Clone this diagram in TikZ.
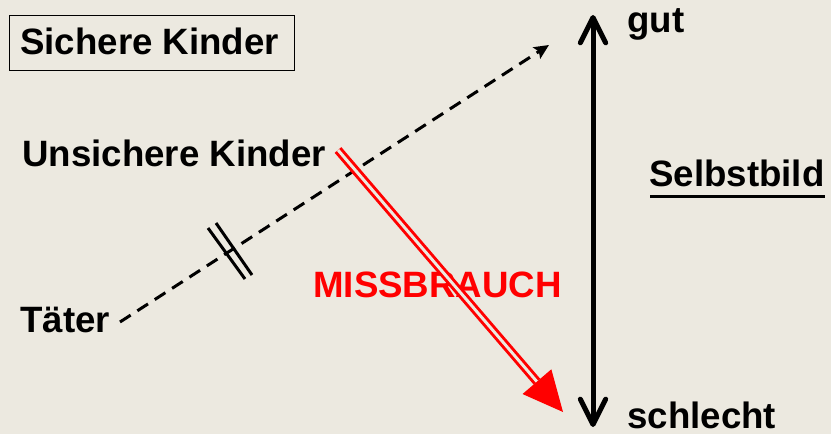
\documentclass[tikz,border=0pt]{standalone}
\usepackage{fontspec}
\setmainfont{Liberation Sans}
\usetikzlibrary{arrows.meta,calc}
\definecolor{bgc}{RGB}{236,233,224}
\definecolor{rd}{RGB}{255,0,0}
\tikzset{
  lbl/.style={font=\bfseries\fontsize{27.5pt}{30pt}\selectfont, inner sep=0pt, anchor=base west},
  dashline/.style={line width=2.25pt, dash pattern=on 9.5pt off 6pt, -{Stealth[length=11pt,width=10pt,inset=2pt]}},
  barline/.style={line width=2.25pt},
  scalearrow/.style={line width=3.75pt, {Straight Barb[round,length=19pt,width=19pt]}-{Straight Barb[round,length=19pt,width=19pt]}},
  redline/.style={draw=rd, line width=2.2pt, double=bgc, double distance=2.2pt},
}
\begin{document}
\begin{tikzpicture}[x=0.75pt,y=-0.75pt]
\fill[bgc] (0,0) rectangle (831,434);
\useasboundingbox (0,0) rectangle (831,434);
% box
\node[draw, line width=0.75pt, minimum width=213.75pt, minimum height=41.25pt, inner sep=0pt, anchor=north west] (skbox) at (9,15) {};
\node[lbl] (sk) at (20,55) {Sichere Kinder};
\node[lbl] (uk) at (22,167) {Unsichere Kinder};
\node[lbl] (tt) at (20,333) {Täter};
\node[lbl] (gut) at (627,33) {gut};
\node[lbl] (sb) at (649,187) {Selbstbild};
\node[lbl, text depth=0pt] (sl) at (627,428) {schlecht};
\node[lbl, text=rd] (mb) at (313,298) {MISSBRAUCH};
\draw[line width=2.25pt] ($(sb.base west)+(1,10)$) -- ($(sb.base east)+(0,10)$);
% dashed
\coordinate (ds) at (120,322);
\coordinate (de) at (549,45);
\draw[dashline] (ds) -- (de);
\coordinate (b1a) at (208,228); \coordinate (b1b) at (245,279);
\coordinate (b2a) at (216,223); \coordinate (b2b) at (252,275);
\draw[barline] (b1a) -- (b1b);
\draw[barline] (b2a) -- (b2b);
% scale arrow
\coordinate (top) at (593,15);
\coordinate (bot) at (593,427);
\draw[scalearrow] (bot) -- (top);
% red arrow
\coordinate (rs) at (338,150);
\coordinate (rt) at (563,412);
\coordinate (rb) at ($(rt)!30pt!(rs)$);
\draw[redline] (rs) -- (rb);
\fill[rd] (rt) -- ($(rb)!14.25pt!90:(rt)$) -- ($(rb)!14.25pt!-90:(rt)$) -- cycle;
\end{tikzpicture}
\end{document}
